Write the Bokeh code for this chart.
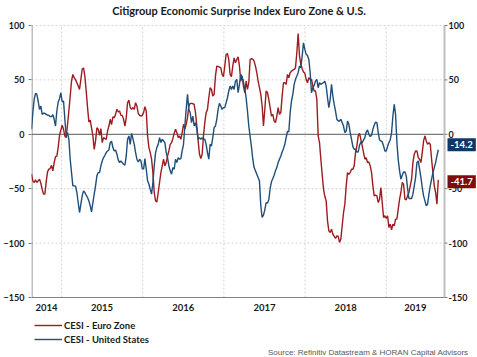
import numpy as np
import pandas as pd
from bokeh.plotting import figure
from bokeh.models import Range1d, FixedTicker, Label, Legend, LegendItem
from bokeh.core.properties import value
from bokeh.embed import file_html
from bokeh.resources import INLINE

# ---------------- data ----------------
start_date = "2014-08-19"
step_days = 6

euro_zone = [
    -36.7, -42.8, -44.3, -41.9, -44.3, -42.8, -41.3, -45.0, -50.5, -55.0,
    -55.0, -44.0, -34.5, -32.0, -31.5, -28.5, -33.6, -26.0, -20.5, -20.0,
    -12.0, -1.0, 4.0, 8.3, 4.6, -1.5, -3.0, 9.0, 21.4, 35.0,
    49.0, 55.0, 52.0, 50.0, 47.4, 44.3, 41.3, 50.5, 60.0, 61.0,
    53.5, 39.8, 24.5, 11.3, 13.0, 6.0, -1.5, -13.8, -6.0, 6.0,
    4.6, -1.0, 5.2, -7.6, -3.0, -4.0, -4.6, 3.0, 7.6, 13.8,
    9.0, 16.0, 15.3, 18.3, 23.0, 20.5, 21.4, 17.4, 17.4, 13.8,
    7.6, 15.3, 29.0, 31.5, 24.5, 23.0, 24.5, 23.0, 29.0, 26.0,
    19.3, 17.4,
    16.8, 17.4, 19.9, 25.4, 21.4, -1.5, -12.2, -16.8, -22.9, -35.2,
    -53.5, -61.2, -62.1, -53.5, -44.3, -35.2, -29.0, -22.9, -29.0, -26.0,
    -19.9, -15.3, -9.2, -7.6, -4.0, 1.0, 4.6, 1.5, -3.0, -1.5,
    -4.6, 1.5, 9.2, 4.6, 9.2, 15.3, 26.0, 28.4, 28.4, 28.1,
    27.5, 19.9, 7.6, -6.1, -18.3, -22.3, -18.3, -1.5, 10.7, 19.9,
    22.9, 33.6, 42.8, 41.3, 35.2, 36.7, 53.5, 62.7, 62.4, 61.8,
    61.2, 55.0, 52.9, 62.7, 73.4, 74.3, 68.8, 55.0, 52.9, 62.7,
    70.3, 65.7, 68.8, 71.3, 62.7, 48.9,
    53.5, 44.3, 38.2, 48.9, 41.3, 47.4, 68.8, 69.4, 69.1, 67.3,
    62.7, 56.6, 48.9, 42.8, 36.7, 26.0, 7.6, 22.9, 39.8, 38.2,
    32.1, 24.5, 16.8, 18.3, 12.2, 10.7, 16.8, 24.5, 18.3, 19.9,
    35.2, 47.4, 47.4, 45.9, 55.0, 52.0, 56.6, 58.1, 59.0, 59.6,
    61.2, 74.9, 92.7, 71.9, 64.2, 60.2, 57.2, 56.0, 50.5, 47.4,
    52.0, 50.5, 50.5, 44.3, 39.8, 39.8, 32.1, -1.5, -7.6, -22.9,
    -36.7, -50.5, -57.2, -61.2, -79.5, -88.7, -90.2, -87.2, -91.7, -93.9,
    -95.7, -93.3, -93.9, -99.4, -96.3, -84.1, -71.9, -64.2,
    -47.4, -35.2, -36.7, -35.2, -32.1, -32.1, -29.0, -16.8, -10.7, -1.5,
    0.9, -4.6, -10.7, -16.8, -22.9, -21.4, -26.0, -25.4, -29.0, -35.2,
    -47.4, -56.6, -56.0, -56.6, -62.7, -59.6, -48.9, -62.7, -76.5, -74.9,
    -77.4, -74.9, -85.6, -82.6, -87.8, -82.6, -84.1, -78.0, -78.0, -68.8,
    -59.6, -53.5, -44.3, -45.9, -59.6, -60.2, -56.6, -53.5, -47.4, -41.3,
    -26.0, -18.3, -15.3, -15.3, -21.4, -22.9, -26.0, -16.8, -6.1, -1.5,
    -6.1, -9.2, -7.6, -9.2, -22.9, -35.2, -47.4, -53.5, -64.2, -41.7,
]

united_states = [
    4.6, 19.9, 32.1, 37.6, 36.7, 30.6, 22.9, 26.0, 18.3, 19.3,
    19.3, 18.3, 17.7, 17.4, 16.2, 16.2, 18.0, 13.8, 7.6, 21.4,
    29.7, 32.7, 38.2, 29.7, 30.6, 13.8, -1.5, 1.5, -4.6, -22.9,
    -35.2, -47.4, -47.4, -47.7, -53.5, -62.7, -71.9, -64.2, -56.6, -52.0,
    -53.5, -56.0, -58.1, -61.2, -65.7, -71.3, -62.7, -55.0, -47.4, -38.2,
    -35.2, -35.2, -29.0, -24.5, -21.4, -19.3, -16.8, -15.3, -14.4, -7.6,
    -6.4, -12.2, -15.3, -14.4, -18.3, -23.5, -26.0, -24.5, -26.0, -27.5,
    -28.4, -19.9, -4.6, -1.5, -9.2, 0.9, -4.0, -9.2, -16.8, -22.9,
    -25.4, -22.9,
    -24.5, -31.5, -32.1, -22.3, -32.1, -42.8, -45.9, -50.5, -55.0, -44.3,
    -29.0, -16.8, -12.2, -9.2, -3.0, -7.6, -4.6, -6.1, -7.6, -16.8,
    -21.4, -29.0, -33.6, -36.7, -30.6, -32.1, -22.9, -26.0, -21.4, -22.9,
    -22.3, -15.3, -9.2, 7.6, 22.9, 36.7, 22.9, 19.9, 10.7, 16.8,
    7.6, 10.7, 4.6, -4.6, -3.0, -4.6, -3.0, -4.6, -4.6, -9.2,
    -16.8, -22.9, -9.2, -10.7, -3.0, 6.1, 7.6, 13.8, 22.9, 28.4,
    26.0, 22.9, 24.5, 24.5, 29.0, 33.6, 39.8, 44.3, 41.3, 44.3,
    41.3, 48.9, 50.5, 38.2, 45.9, 55.0,
    52.9, 47.7, 41.9, 33.6, 21.4, 7.6, -2.1, -11.3, -22.9, -30.6,
    -33.6, -36.7, -39.8, -42.8, -65.7, -76.5, -74.3, -69.4, -62.7, -63.3,
    -60.2, -49.8, -43.7, -40.7, -37.6, -33.6, -30.6, -26.0, -22.9, -19.9,
    -16.2, -13.2, -9.2, -3.0, 2.8, 2.1, 19.9, 30.6, 36.7, 45.9,
    50.5, 53.5, 56.6, 62.7, 61.2, 71.9, 84.1, 78.0, 73.4, 72.5,
    68.8, 56.6, 38.2, 42.8, 45.0, 48.9, 50.5, 42.8, 47.4, 45.9,
    46.8, 47.4, 48.9, 44.3, 33.6, 24.5, 32.1, 45.9, 35.2, 27.5,
    21.4, 13.8, 12.2, 12.2, 13.8, 10.7, 7.6, 1.5,
    3.0, 12.2, 9.2, 1.5, -4.6, -11.3, -13.8, -13.8, -16.2, -16.2,
    -10.1, -7.0, -7.6, -5.2, -3.0, 2.1, 4.0, 0.0, -2.1, -0.9,
    4.6, 8.3, 11.3, 10.7, 1.5, -5.2, -6.1, -7.0, -10.7, -15.3,
    -15.3, -11.3, -7.6, -5.2, 1.5, 16.8, 27.5, 18.3, -7.6, -23.5,
    -33.6, -41.3, -37.6, -34.6, -34.6, -38.2, -49.8, -59.0, -59.0, -59.0,
    -55.0, -47.4, -39.8, -26.0, -24.5, -32.1, -39.8, -48.9, -56.6, -61.2,
    -65.7, -64.2, -55.0, -47.4, -41.3, -35.2, -30.6, -26.0, -19.9, -14.2,
]

year_labels = ["2014", "2015", "2016", "2017", "2018", "2019"]
year_starts = [2015, 2016, 2017, 2018, 2019]
y_ticks = [-150, -100, -50, 0, 50, 100]
grid_levels = [-100, -50, 50, 100]
series_names = ["CESI - Euro Zone", "CESI - United States"]
title_text = "Citigroup Economic Surprise Index Euro Zone & U.S."
source_text = "Source: Refinitiv Datastream & HORAN Capital Advisors"

# ---------------- layout & styling ----------------
W, H = 477, 357
LEFT_PX = 31            # left axis panel
PLOT_W_PX = 413         # plotting area width (to the right-hand scale)
TOP_PX, PLOT_H_PX = 25, 272
TICK_PX = 3
EURO_COLOR = "#9e1b1f"
US_COLOR = "#1f4e79"
EURO_BOX = "#7d0c0c"
US_BOX = "#0f3869"
FONT = "Lato"
TXT = "#1a1a1a"
GRID = "#d4d4d4"


def frac_year(d):
    d = pd.Timestamp(d)
    days = 366 if d.is_leap_year else 365
    return d.year + (d.dayofyear - 1) / days


dates = pd.date_range(start_date, periods=len(euro_zone), freq=f"{step_days}D")
x = np.array([frac_year(d) for d in dates])

y_lo, y_hi = -150, 100
x_start = frac_year("2014-08-19")
x_axis = frac_year("2019-09-20")                 # right-hand scale position
per_px = (x_axis - x_start) / PLOT_W_PX
uy = (y_hi - y_lo) / PLOT_H_PX
x_range_end = x_start + (W - LEFT_PX) * per_px
y_range_hi = y_hi + TOP_PX * uy
y_range_lo = y_range_hi - H * uy


def px_x(px):      # canvas pixel -> data x (for decorations only)
    return x_start + (px - LEFT_PX) * per_px


def px_y(py):      # canvas pixel -> data y (for decorations only)
    return y_range_hi - py * uy


p = figure(width=W, height=H,
           min_border_left=LEFT_PX, min_border_right=0,
           min_border_top=0, min_border_bottom=0,
           x_range=Range1d(x_start, x_range_end),
           y_range=Range1d(y_range_lo, y_range_hi),
           output_backend="svg", toolbar_location=None)
p.outline_line_color = None
p.background_fill_color = "white"
p.border_fill_color = "white"
p.xaxis.visible = False
p.xgrid.visible = False
p.ygrid.visible = False

# left axis (bokeh axis: ticks and labels); its line drawn only over the plot
ya = p.yaxis[0]
ya.ticker = FixedTicker(ticks=y_ticks)
ya.axis_line_color = None
ya.major_tick_line_color = "#7f7f7f"
ya.major_tick_out = TICK_PX
ya.major_tick_in = 0
ya.minor_tick_line_color = None
ya.major_label_text_font = FONT
ya.major_label_text_font_style = "bold"
ya.major_label_text_font_size = "9px"
ya.major_label_text_color = TXT
ya.major_label_standoff = 4

# grid lines
n = len(grid_levels)
p.segment(x0=[x_start] * n, y0=grid_levels, x1=[x_axis] * n, y1=grid_levels,
          line_color=GRID, line_dash="2 2", line_width=1)
k = len(year_starts)
p.segment(x0=year_starts, y0=[y_lo] * k, x1=year_starts, y1=[y_hi] * k,
          line_color=GRID, line_dash="2 2", line_width=1)

# frame lines
p.segment(x0=[x_start + 0.5 * per_px], y0=[y_lo], x1=[x_start + 0.5 * per_px],
          y1=[y_hi], line_color="#7f7f7f", line_width=1)
p.segment(x0=[x_start], y0=[y_lo], x1=[x_axis], y1=[y_lo],
          line_color="#808080", line_width=1.2)
p.segment(x0=[x_start], y0=[0], x1=[x_axis], y1=[0],
          line_color="#595959", line_width=1)

# right-hand scale
m = len(y_ticks)
p.segment(x0=[x_axis], y0=[y_lo], x1=[x_axis], y1=[y_hi],
          line_color="#bfbfbf", line_width=2)
p.segment(x0=[x_axis] * m, y0=y_ticks, x1=[x_axis + TICK_PX * per_px] * m,
          y1=y_ticks, line_color="#7f7f7f", line_width=1)
p.text(x=[x_axis + (TICK_PX + 1) * per_px] * m, y=y_ticks,
       text=[str(t) for t in y_ticks],
       text_align="left", text_baseline="middle",
       text_font=value(FONT), text_font_style="bold", text_font_size="9px",
       text_color=TXT)

# year labels centred in each year span
mids = [(x_start + 2015) / 2, 2015.5, 2016.5, 2017.5, 2018.5, (2019 + x_axis) / 2]
p.text(x=mids, y=[px_y(TOP_PX + PLOT_H_PX + 10)] * len(mids), text=year_labels,
       text_align="center", text_baseline="middle",
       text_font=value(FONT), text_font_style="bold", text_font_size="9.5px",
       text_color=TXT)

# series
r_eu = p.line(x, euro_zone, line_color=EURO_COLOR, line_width=1.4)
r_us = p.line(x, united_states, line_color=US_COLOR, line_width=1.4)

legend = Legend(items=[LegendItem(label=series_names[0], renderers=[r_eu]),
                       LegendItem(label=series_names[1], renderers=[r_us])],
                location=(3, 11), orientation="vertical",
                glyph_width=28, glyph_height=14, label_height=14,
                spacing=0, padding=0, margin=0, label_standoff=2,
                label_text_font=FONT, label_text_font_style="bold",
                label_text_font_size="9.5px", label_text_color=TXT,
                border_line_color=None, background_fill_alpha=0)
p.add_layout(legend, "center")

# title and source
p.add_layout(Label(x=px_x(W / 2), y=px_y(10), text=title_text,
                   text_align="center", text_baseline="middle",
                   text_font=FONT, text_font_style="bold",
                   text_font_size="11px", text_color=TXT))
p.add_layout(Label(x=px_x(468), y=px_y(352), text=source_text,
                   text_align="right", text_baseline="middle",
                   text_font="Liberation Sans", text_font_size="8px",
                   text_color="#595959"))

# end-value boxes next to the right-hand scale
for val, box, dpx in ((united_states[-1], US_BOX, 5), (euro_zone[-1], EURO_BOX, -2)):
    p.add_layout(Label(x=x_axis + 3 * per_px, y=val + dpx * uy,
                       text=f"{val:.1f}", text_align="left",
                       text_baseline="middle", text_font=FONT,
                       text_font_style="bold", text_font_size="9.5px",
                       text_color="white", background_fill_color=box,
                       padding=3))

open("out.html", "w").write(file_html(p, INLINE))
